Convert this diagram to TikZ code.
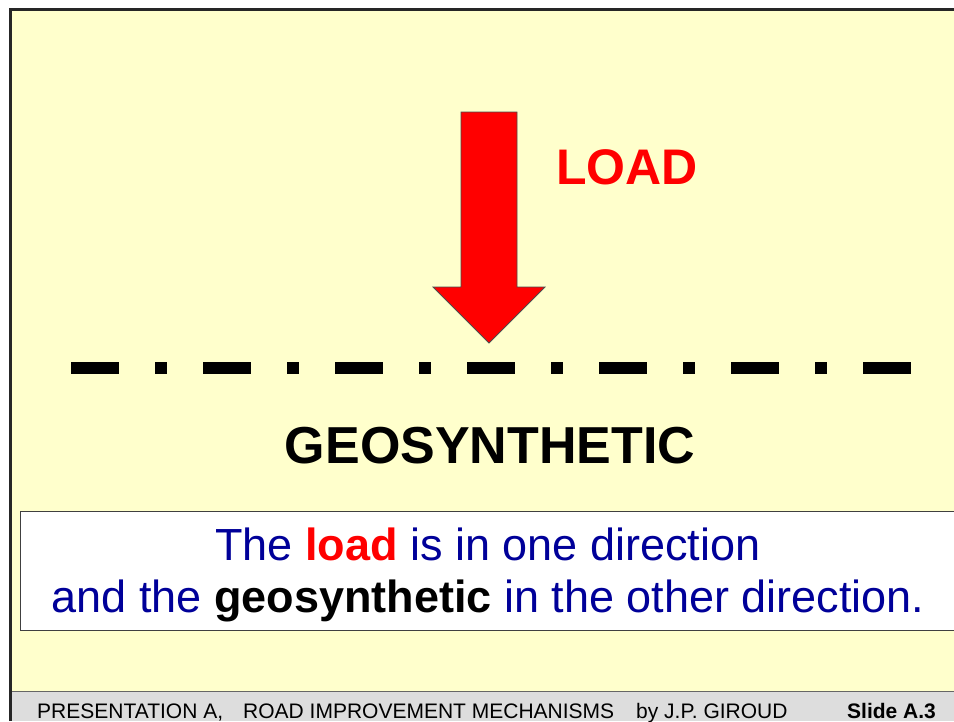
\documentclass[tikz,border=0pt]{standalone}
\usepackage{fontspec}
\setmainfont{Liberation Sans}
\definecolor{slidebg}{HTML}{FFFFCC}
\definecolor{footbg}{HTML}{DDDDDD}
\definecolor{bodyblue}{HTML}{000099}
\definecolor{loadred}{HTML}{FF0000}
\begin{document}
\begin{tikzpicture}[x=1pt,y=-1pt,
  txt/.style={inner sep=0pt, anchor=base},
  foot/.style={inner sep=0pt, anchor=base west, font=\fontsize{21}{24}\selectfont},
  band/.style={fill=black}]
\useasboundingbox (0,0) rectangle (954,721);
\fill[white] (0,0) rectangle (954,721);

% slide area and footer band
\fill[slidebg] (10.5,9) rectangle (954,691);
\fill[footbg] (10.5,691) rectangle (954,721);
\draw[line width=0.8pt, black!60] (10.5,691) -- (954,691);
\draw[line width=3pt, black!85] (10.5,721) -- (10.5,9) -- (954,9);

% load arrow
\draw[fill=loadred, draw=black!70, line width=0.8pt, line join=miter]
  (461,112) -- (517,112) -- (517,287) -- (545,287) -- (489,343)
  -- (433,287) -- (461,287) -- cycle;
\node[txt, text=loadred, font=\fontsize{50}{60}\selectfont\bfseries] (load) at (627,184) {LOAD};

% geosynthetic: dash-dot line
\foreach \i in {0,...,6} \fill[band] (71+132*\i,361.5) rectangle ++(48,12.5);
\foreach \i in {0,...,5} \fill[band] (155+132*\i,361.5) rectangle ++(12,12.5);
\node[txt, font=\fontsize{52}{60}\selectfont\bfseries] (geo) at (490,463) {GEOSYNTHETIC};

% explanation box
\fill[white] (20.7,511.7) rectangle (954,630.7);
\draw[line width=1pt, black!75] (954,511.7) -- (20.7,511.7) -- (20.7,630.7) -- (954,630.7);
\node[txt, text=bodyblue, font=\fontsize{45}{45}\selectfont] (line1) at (488,560)
  {The \textcolor{loadred}{\bfseries load} is in one direction};
\node[txt, text=bodyblue, font=\fontsize{45}{45}\selectfont] (line2) at (488,612)
  {and the \textcolor{black}{\bfseries geosynthetic} in the other direction.};

% footer
\node[foot] (f1) at (37,718) {PRESENTATION A,};
\node[foot] (f2) at (243,718) {ROAD IMPROVEMENT MECHANISMS};
\node[foot] (f3) at (636,718) {by J.P. GIROUD};
\node[foot, font=\fontsize{21}{24}\selectfont\bfseries] (f4) at (847,718) {Slide A.3};
\end{tikzpicture}
\end{document}
